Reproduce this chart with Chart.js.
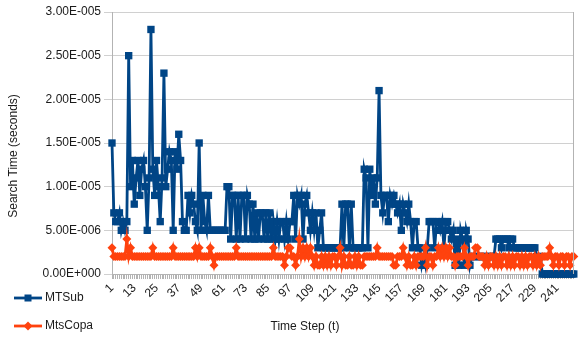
<!DOCTYPE html>
<html><head><meta charset="utf-8">
<script src="https://cdn.jsdelivr.net/npm/chart.js@4"></script>
<style>html,body{margin:0;padding:0;background:#fff;}canvas{display:block;}</style>
</head><body>
<canvas id="c" width="579" height="341"></canvas>
<script>
// values in microseconds (1E-006 s)
const seriesNames = ['MTSub', 'MtsCopa'];
const mtsub = [
  15,7,6,6,7,5,6,5,6,
  25,
  10,13,8,11,13,9,12,13,10,5,11,
  28,
  12,9,13,10,6,11,
  23,
  10,12,14,13,5,14,12,16,13,
  6,5,5,9,7,9,8,6,5,
  15,
  5,9,6,5,9,5,5,5,5,5,5,5,5,5,
  10,10,4,9,9,4,9,4,9,9,4,9,8,4,8,4,7,4,7,7,4,7,4,7,4,6,4,6,4,6,6,4,6,4,6,6,
  9,4,9,8,9,4,8,9,
  7,5,7,5,7,3,5,7,3,
  3,3,3,3,3,3,3,3,3,
  8,3,8,8,3,8,
  3,3,3,3,3,3,
  12,11,3,12,9,11,8,11,
  21,
  9,7,9,9,6,9,8,9,
  8,7,8,5,8,7,6,8,
  6,3,6,6,3,
  3,1,2,1,3,6,
  6,6,3,6,6,5,6,3,6,6,
  5,4,5,1,4,1,5,4,1,5,4,1,
  2,2,2,2,2,2,2,2,2,2,2,2,2,
  4,4,4,3,4,4,4,3,4,4,
  3,3,3,3,3,3,3,3,3,3,3,3,
  2,2,2,0,
  0,0,0,0,0,0,0,0,0,0,0,0,0,0,0,0,0
];
const mtscopa = [
  3,
  2,2,2,2,2,2,2,
  4,2,3,
  2,2,2,2,2,2,2,2,2,2,2,
  3,
  2,2,2,2,2,2,2,2,2,2,
  3,
  2,2,2,2,2,2,2,2,2,2,2,
  3,2,3,
  2,2,2,2,2,
  3,2,1,
  2,2,2,2,2,2,2,2,2,2,2,
  3,
  2,2,2,2,2,2,2,2,2,2,2,2,2,2,2,2,2,2,2,
  3,
  2,2,2,2,2,
  1,2,3,3,2,2,1,2,4,2,
  3,2,3,2,3,2,
  1,2,1,1,2,1,2,1,
  2,1,2,2,1,2,
  3,
  1,2,1,1,2,1,1,2,1,2,1,1,2,2,
  2,2,2,2,2,
  3,
  2,2,2,2,2,2,2,2,1,
  1,2,2,2,
  3,
  2,1,2,1,1,2,1,2,2,2,2,
  3,
  1,2,2,1,2,2,
  3,2,3,2,3,2,3,2,
  2,1,2,2,2,2,
  3,
  2,1,2,2,2,3,
  3,
  2,2,2,
  1,2,1,2,2,1,2,1,2,1,2,2,1,2,1,2,1,2,2,1,2,1,2,1,2,2,1,2,1,2,1,2,
  2,2,2,
  3,
  2,1,2,2,1,2,2,1,2,2,1,2,2
];
const yTickValues = [0, 5, 10, 15, 20, 25, 30];
const labelEvery = 12;
const categories = mtsub.map((_, i) => String(i + 1));

const BLUE = '#004586', ORANGE = '#ff420e';
const FONT = '"Liberation Sans", Arial, sans-serif';
const TXT = '#1a1a1a';

function fmtE(us) {
  if (us === 0) return '0.00E+000';
  const v = us * 1e-6;
  let e = Math.floor(Math.log10(v));
  let m = v / Math.pow(10, e);
  if (m >= 9.995) { m /= 10; e++; }
  if (m < 0.9995) { m *= 10; e--; }
  return m.toFixed(2) + 'E' + (e < 0 ? '-' : '+') + String(Math.abs(e)).padStart(3, '0');
}

const extras = {
  id: 'extras',
  afterDraw(chart) {
    const ctx = chart.ctx, a = chart.chartArea;
    ctx.save();
    ctx.strokeStyle = '#b3b3b3'; ctx.lineWidth = 1;
    ctx.beginPath();
    ctx.moveTo(Math.round(a.right) - 0.5, a.top); ctx.lineTo(Math.round(a.right) - 0.5, a.bottom);
    ctx.stroke();
    ctx.font = '12px ' + FONT; ctx.fillStyle = TXT; ctx.textBaseline = 'middle'; ctx.textAlign = 'left';
    ctx.strokeStyle = BLUE; ctx.lineWidth = 2.8;
    ctx.beginPath(); ctx.moveTo(14, 298); ctx.lineTo(42, 298); ctx.stroke();
    ctx.fillStyle = BLUE; ctx.fillRect(24.5, 294.5, 7, 7);
    ctx.fillStyle = TXT; ctx.fillText(seriesNames[0], 45, 298);
    ctx.strokeStyle = ORANGE;
    ctx.beginPath(); ctx.moveTo(14, 326); ctx.lineTo(42, 326); ctx.stroke();
    ctx.fillStyle = ORANGE;
    ctx.beginPath(); ctx.moveTo(28, 321.5); ctx.lineTo(32.5, 326); ctx.lineTo(28, 330.5); ctx.lineTo(23.5, 326); ctx.closePath(); ctx.fill();
    ctx.fillStyle = TXT; ctx.fillText(seriesNames[1], 45, 326);
    ctx.textAlign = 'center';
    ctx.fillText('Time Step (t)', 305, 327);
    ctx.translate(14, 156); ctx.rotate(-Math.PI / 2);
    ctx.fillText('Search Time (seconds)', 0, 0);
    ctx.restore();
  }
};

new Chart(document.getElementById('c'), {
  type: 'line',
  data: {
    labels: categories,
    datasets: [
      { label: seriesNames[0], data: mtsub, borderColor: BLUE, backgroundColor: BLUE,
        pointBackgroundColor: BLUE, pointBorderColor: BLUE, borderWidth: 2.8,
        pointStyle: 'rect', pointRadius: 5.2, pointBorderWidth: 0, tension: 0, order: 2, clip: false },
      { label: seriesNames[1], data: mtscopa, borderColor: ORANGE, backgroundColor: ORANGE,
        pointBackgroundColor: ORANGE, pointBorderColor: ORANGE, borderWidth: 2.8,
        pointStyle: 'rectRot', pointRadius: 4.5, pointBorderWidth: 0, tension: 0, order: 1, clip: false }
    ]
  },
  options: {
    responsive: false, animation: false, devicePixelRatio: 1,
    layout: { padding: { left: 0, right: 1, top: 12, bottom: 0 } },
    plugins: { legend: { display: false }, tooltip: { enabled: false } },
    scales: {
      x: {
        offset: false,
        grid: { drawOnChartArea: false, drawTicks: true, tickLength: 5, color: '#b3b3b3' },
        border: { color: '#b3b3b3' },
        ticks: {
          autoSkip: false, minRotation: 45, maxRotation: 45, padding: 2,
          color: TXT, font: { family: FONT, size: 12 },
          callback: (v, i) => (i % labelEvery === 0 ? categories[i] : '')
        },
        afterFit: s => { s.height = 67; s.paddingRight = 0; s.paddingLeft = 0; }
      },
      y: {
        min: 0, max: 30,
        afterBuildTicks: s => { s.ticks = yTickValues.map(v => ({ value: v })); },
        grid: { color: '#d0d0d0', tickLength: 8 },
        border: { color: '#b3b3b3' },
        ticks: { color: TXT, font: { family: FONT, size: 12 }, padding: 3, callback: v => fmtE(v) },
        afterFit: s => { s.width = 112; }
      }
    }
  },
  plugins: [extras]
});
</script>
</body></html>
